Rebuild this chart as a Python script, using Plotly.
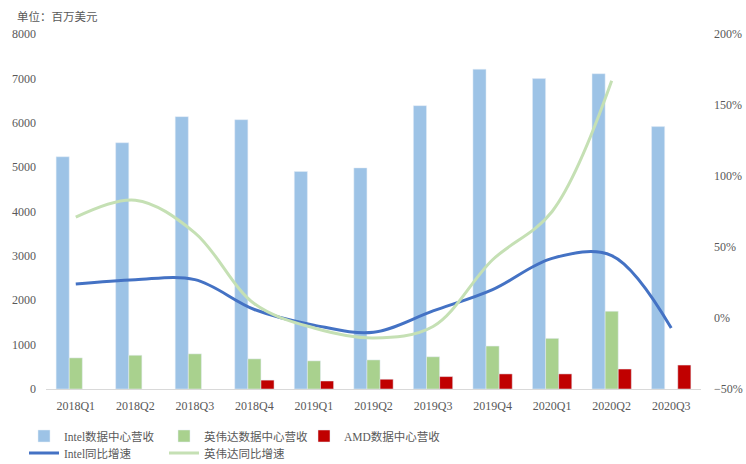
import plotly.graph_objects as go

quarters = ["2018Q1", "2018Q2", "2018Q3", "2018Q4", "2019Q1", "2019Q2",
            "2019Q3", "2019Q4", "2020Q1", "2020Q2", "2020Q3"]
intel_rev = [5234, 5549, 6138, 6069, 4903, 4983, 6385, 7206, 6995, 7105, 5913]
nvidia_rev = [701, 760, 792, 679, 634, 655, 726, 968, 1141, 1752, None]
amd_rev = [None, None, None, 200, 180, 220, 280, 340, 340, 450, 540]
intel_yoy = [24, 27, 27, 6, -5, -10, 5, 20, 42, 44, -7]
nvidia_yoy = [71, 83, 60, 10, -7, -14, -6, 41, 75, 167, None]

FONT = "Liberation Serif, Noto Sans CJK SC"
TICK = "#595959"

fig = go.Figure()
fig.add_bar(x=quarters, y=intel_rev, name="Intel数据中心营收",
            marker_color="#9DC3E6", legend="legend")
fig.add_bar(x=quarters, y=nvidia_rev, name="英伟达数据中心营收",
            marker_color="#A9D18E", legend="legend")
fig.add_bar(x=quarters, y=amd_rev, name="AMD数据中心营收",
            marker_color="#C00000", legend="legend")
fig.add_scatter(x=quarters, y=intel_yoy, name="Intel同比增速", yaxis="y2",
                mode="lines", line=dict(color="#4472C4", width=3, shape="spline", smoothing=1),
                legend="legend2")
fig.add_scatter(x=quarters, y=nvidia_yoy, name="英伟达同比增速", yaxis="y2",
                mode="lines", line=dict(color="#C5E0B4", width=3, shape="spline", smoothing=1),
                legend="legend2")

legend_common = dict(orientation="h", xref="container", yref="container",
                     xanchor="left", yanchor="middle", entrywidth=95,
                     entrywidthmode="pixels", font=dict(family=FONT, size=11.5, color=TICK),
                     bgcolor="rgba(0,0,0,0)", itemwidth=30, tracegroupgap=0)

fig.update_layout(
    width=746, height=464,
    margin=dict(l=46, r=45, t=34, b=75, autoexpand=False),
    plot_bgcolor="white", paper_bgcolor="white",
    barmode="group", bargap=0.34, bargroupgap=0,
    font=dict(family=FONT, size=12, color=TICK),
    xaxis=dict(type="category", showgrid=False, showline=True, linecolor="#D9D9D9",
               linewidth=1, ticks="", ticklabelstandoff=6, automargin=False,
               tickfont=dict(family=FONT, size=12, color=TICK)),
    yaxis=dict(range=[0, 8000], dtick=1000, showgrid=False, zeroline=False,
               showline=False, ticks="", ticklabelstandoff=9, automargin=False,
               tickfont=dict(family=FONT, size=12, color=TICK)),
    yaxis2=dict(range=[-50, 200], dtick=50, ticksuffix="%", overlaying="y", side="right",
                showgrid=False, zeroline=False, showline=False, ticks="", ticklabelstandoff=12,
                automargin=False, tickfont=dict(family=FONT, size=12, color=TICK)),
    legend=dict(legend_common, x=24 / 746, y=28 / 464),
    legend2=dict(legend_common, x=24 / 746, y=11 / 464),
    showlegend=True,
    annotations=[dict(text="单位：百万美元", xref="paper", yref="paper", x=-0.048, y=1.05,
                      xanchor="left", yanchor="middle", showarrow=False,
                      font=dict(family="Noto Sans CJK SC", size=11.5, color=TICK))],
)

fig.write_html("out.html")
